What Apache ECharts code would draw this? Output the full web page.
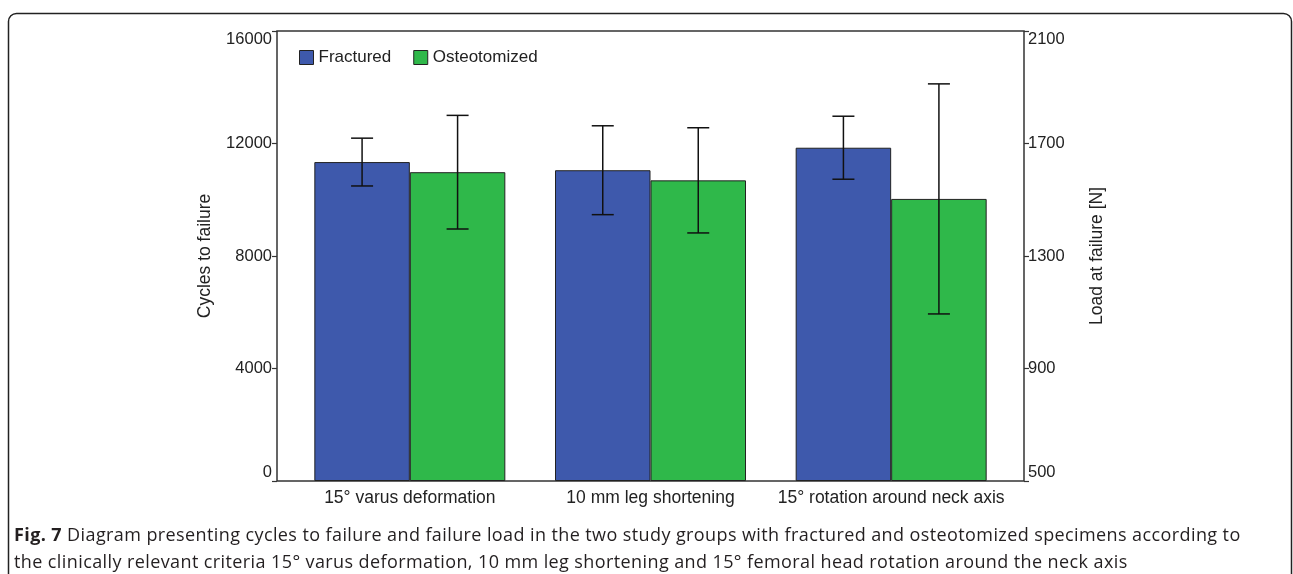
<!DOCTYPE html>
<html>
<head>
<meta charset="utf-8">
<script src="https://cdn.jsdelivr.net/npm/echarts@6/dist/echarts.min.js"></script>
<style>
html,body{margin:0;padding:0;background:#fff;}
#wrap{position:relative;width:1293px;height:574px;overflow:hidden;}
#chart{width:1293px;height:574px;}
#caption{position:absolute;left:14px;top:521px;font-family:"Open Sans",sans-serif;font-size:18px;line-height:27px;color:#231F20;letter-spacing:0.4px;white-space:nowrap;}
#caption b{font-weight:700;}
</style>
</head>
<body>
<div id="wrap">
<div id="chart"></div>
<div id="caption"></div>
</div>
<script>
// ---- data ----
var categories = ['15° varus deformation', '10 mm leg shortening', '15° rotation around neck axis'];
var seriesNames = ['Fractured', 'Osteotomized'];
var fracturedMean = [11340, 11050, 11850];
var fracturedErr  = [850, 1580, 1120];
var osteoMean     = [10980, 10690, 10030];
var osteoErr      = [2020, 1870, 4090];
var leftTicks  = [0, 4000, 8000, 12000, 16000];
var rightTicks = [500, 900, 1300, 1700, 2100];
var caption1Bold = 'Fig. 7';
var caption1 = ' Diagram presenting cycles to failure and failure load in the two study groups with fractured and osteotomized specimens according to';
var caption2 = 'the clinically relevant criteria 15° varus deformation, 10 mm leg shortening and 15° femoral head rotation around the neck axis';

var cap = document.getElementById('caption');
var b = document.createElement('b'); b.textContent = caption1Bold;
cap.appendChild(b);
cap.appendChild(document.createTextNode(caption1));
cap.appendChild(document.createElement('br'));
cap.appendChild(document.createTextNode(caption2));

var FONT = '"Liberation Sans", Arial, sans-serif';
var BAR_W = 95.5;

function errSeries(means, errs, side) {
  var data = means.map(function (m, i) { return [i, m - errs[i], m + errs[i]]; });
  return {
    type: 'custom',
    xAxisIndex: 0, yAxisIndex: 0,
    z: 10,
    silent: true,
    data: data,
    renderItem: function (params, api) {
      var c = api.value(0);
      var lo = api.coord([c, api.value(1)]);
      var hi = api.coord([c, api.value(2)]);
      var x = lo[0] + side * BAR_W / 2;
      var capW = 11;
      var st = { stroke: '#111', lineWidth: 1.5 };
      return {
        type: 'group',
        children: [
          { type: 'line', shape: { x1: x, y1: lo[1], x2: x, y2: hi[1] }, style: st },
          { type: 'line', shape: { x1: x - capW, y1: lo[1], x2: x + capW, y2: lo[1] }, style: st },
          { type: 'line', shape: { x1: x - capW, y1: hi[1], x2: x + capW, y2: hi[1] }, style: st }
        ]
      };
    }
  };
}

var plain = function (v) { return String(v); };

var chart = echarts.init(document.getElementById('chart'), null, { renderer: 'canvas' });
chart.setOption({
  animation: false,
  backgroundColor: '#fff',
  textStyle: { fontFamily: FONT },
  grid: [
    { left: 289.5, right: 281.5, top: 31, bottom: 93, containLabel: false },
    { left: 277, right: 269, top: 31, bottom: 93, show: true, borderColor: '#333', borderWidth: 1.5, backgroundColor: 'transparent', containLabel: false }
  ],
  legend: {
    data: seriesNames,
    left: 299, top: 49, padding: 0,
    itemWidth: 14, itemHeight: 14, itemGap: 22,
    icon: 'rect',
    textStyle: { fontSize: 17, color: '#222', fontFamily: FONT },
    itemStyle: { borderColor: '#222', borderWidth: 1 }
  },
  xAxis: [
    {
      type: 'category', gridIndex: 0, data: categories,
      axisLine: { show: false }, axisTick: { show: false },
      axisLabel: { interval: 0, fontSize: 17.5, color: '#222', margin: 8, fontFamily: FONT }
    },
    { type: 'value', gridIndex: 1, show: false }
  ],
  yAxis: [
    {
      type: 'value', gridIndex: 0, position: 'left', offset: 12.5,
      min: leftTicks[0], max: leftTicks[leftTicks.length - 1], interval: leftTicks[1] - leftTicks[0],
      name: 'Cycles to failure', nameLocation: 'middle', nameGap: 63, nameRotate: 90,
      nameTextStyle: { fontSize: 17.5, color: '#222', fontFamily: FONT },
      axisLine: { show: false },
      axisTick: { show: true, length: 5, lineStyle: { color: '#333', width: 1.2 } },
      axisLabel: { fontSize: 16.5, color: '#222', margin: 5, fontFamily: FONT, formatter: plain,
                   verticalAlignMinLabel: 'bottom', verticalAlignMaxLabel: 'top' },
      splitLine: { show: false }
    },
    {
      type: 'value', gridIndex: 0, position: 'right', offset: 12.5,
      min: rightTicks[0], max: rightTicks[rightTicks.length - 1], interval: rightTicks[1] - rightTicks[0],
      name: 'Load at failure [N]', nameLocation: 'middle', nameGap: 64, nameRotate: 90,
      nameTextStyle: { fontSize: 17.5, color: '#222', fontFamily: FONT },
      axisLine: { show: false },
      axisTick: { show: true, length: 5, lineStyle: { color: '#333', width: 1.2 } },
      axisLabel: { fontSize: 16.5, color: '#222', margin: 4, fontFamily: FONT, formatter: plain,
                   verticalAlignMinLabel: 'bottom', verticalAlignMaxLabel: 'top' },
      splitLine: { show: false }
    },
    { type: 'value', gridIndex: 1, show: false }
  ],
  series: [
    {
      name: seriesNames[0], type: 'bar', xAxisIndex: 0, yAxisIndex: 0,
      data: fracturedMean, barWidth: BAR_W, barGap: '0%',
      itemStyle: { color: '#3E59AC', borderColor: '#222', borderWidth: 1 }
    },
    {
      name: seriesNames[1], type: 'bar', xAxisIndex: 0, yAxisIndex: 0,
      data: osteoMean, barWidth: BAR_W, barGap: '0%',
      itemStyle: { color: '#2FB84A', borderColor: '#222', borderWidth: 1 }
    },
    errSeries(fracturedMean, fracturedErr, -1),
    errSeries(osteoMean, osteoErr, 1)
  ],
  graphic: [
    {
      type: 'rect', silent: true, z: -1,
      shape: { x: 8.5, y: 13.5, width: 1283, height: 700, r: 8 },
      style: { fill: 'none', stroke: '#222', lineWidth: 1.5 }
    }
  ]
});
</script>
</body>
</html>
